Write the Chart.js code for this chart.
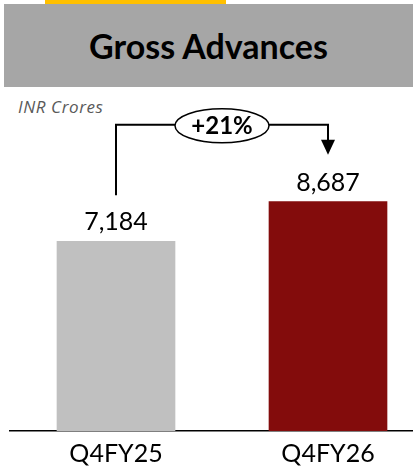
<!DOCTYPE html>
<html>
<head>
<meta charset="utf-8">
<script src="https://cdn.jsdelivr.net/npm/chart.js@4"></script>
<style>
  html, body { margin: 0; padding: 0; background: #fff; overflow: hidden; width: 413px; height: 472px; }
  .strip { position: absolute; left: 45px; top: 0; width: 181px; height: 5px; background: #FFC000; }
  .header { position: absolute; left: 4px; top: 4px; width: 409px; height: 83px; background: #A6A6A6;
    display: flex; align-items: center; justify-content: center;
    font-family: Lato, sans-serif; font-weight: bold; font-size: 34px; color: #000; }
  .unit { position: absolute; left: 18px; top: 95px; font-family: "Open Sans", sans-serif; font-style: italic;
    font-size: 17px; letter-spacing: 0.6px; color: #595959; }
  .wrap { position: absolute; left: 0; top: 88px; width: 434px; height: 384px; }
</style>
</head>
<body>
<div class="strip"></div>
<div class="header">Gross Advances</div>
<div class="unit">INR Crores</div>
<div class="wrap"><canvas id="chart"></canvas></div>
<script>
// Chart data
const categories = ['Q4FY25', 'Q4FY26'];
const advances = [7184, 8687];
const barColors = ['#C0C0C0', '#830C0C'];
const growthLabel = '+21%';

// Value labels above bars
const valueLabels = {
  id: 'valueLabels',
  afterDatasetsDraw(chart) {
    const ctx = chart.ctx;
    const meta = chart.getDatasetMeta(0);
    ctx.save();
    ctx.font = '25px Lato, sans-serif';
    ctx.fillStyle = '#000';
    ctx.textAlign = 'center';
    ctx.textBaseline = 'alphabetic';
    meta.data.forEach((bar, i) => {
      ctx.fillText(advances[i].toLocaleString('en-US'), bar.x, bar.y - 11);
    });
    ctx.restore();
  }
};

// Growth connector with ellipse and arrow
const growthArrow = {
  id: 'growthArrow',
  afterDatasetsDraw(chart) {
    const ctx = chart.ctx;
    const meta = chart.getDatasetMeta(0);
    const a = meta.data[0], b = meta.data[1];
    const topY = b.y - 77;
    const midX = (a.x + b.x) / 2;
    const rx = 47, ry = 17;
    ctx.save();
    ctx.strokeStyle = '#000';
    ctx.lineWidth = 2;
    ctx.beginPath();
    ctx.moveTo(a.x, a.y - 46);
    ctx.lineTo(a.x, topY);
    ctx.lineTo(midX - rx, topY);
    ctx.moveTo(midX + rx, topY);
    ctx.lineTo(b.x, topY);
    ctx.lineTo(b.x, b.y - 58);
    ctx.stroke();
    // arrow head
    ctx.fillStyle = '#000';
    ctx.beginPath();
    ctx.moveTo(b.x - 7, b.y - 62);
    ctx.lineTo(b.x + 7, b.y - 62);
    ctx.lineTo(b.x, b.y - 47);
    ctx.closePath();
    ctx.fill();
    // ellipse
    ctx.lineWidth = 1.5;
    ctx.fillStyle = '#fff';
    ctx.beginPath();
    ctx.ellipse(midX, topY + 1, rx, ry, 0, 0, Math.PI * 2);
    ctx.fill();
    ctx.stroke();
    ctx.fillStyle = '#000';
    ctx.font = 'bold 24px Lato, sans-serif';
    ctx.textAlign = 'center';
    ctx.textBaseline = 'middle';
    ctx.fillText(growthLabel, midX, topY + 2);
    ctx.restore();
  }
};

new Chart(document.getElementById('chart'), {
  type: 'bar',
  data: {
    labels: categories,
    datasets: [{
      data: advances,
      backgroundColor: barColors,
      barThickness: 118
    }]
  },
  options: {
    responsive: true,
    maintainAspectRatio: false,
    animation: false,
    layout: { padding: { left: 10, right: 0, top: 12, bottom: 4 } },
    plugins: {
      legend: { display: false },
      tooltip: { enabled: false }
    },
    scales: {
      x: {
        grid: { display: false },
        border: { display: true, color: '#000', width: 1.5 },
        ticks: { color: '#000', font: { family: 'Lato', size: 25, lineHeight: 1 }, padding: 2 }
      },
      y: {
        display: false,
        min: 0,
        max: 12540
      }
    }
  },
  plugins: [valueLabels, growthArrow]
});
</script>
</body>
</html>
